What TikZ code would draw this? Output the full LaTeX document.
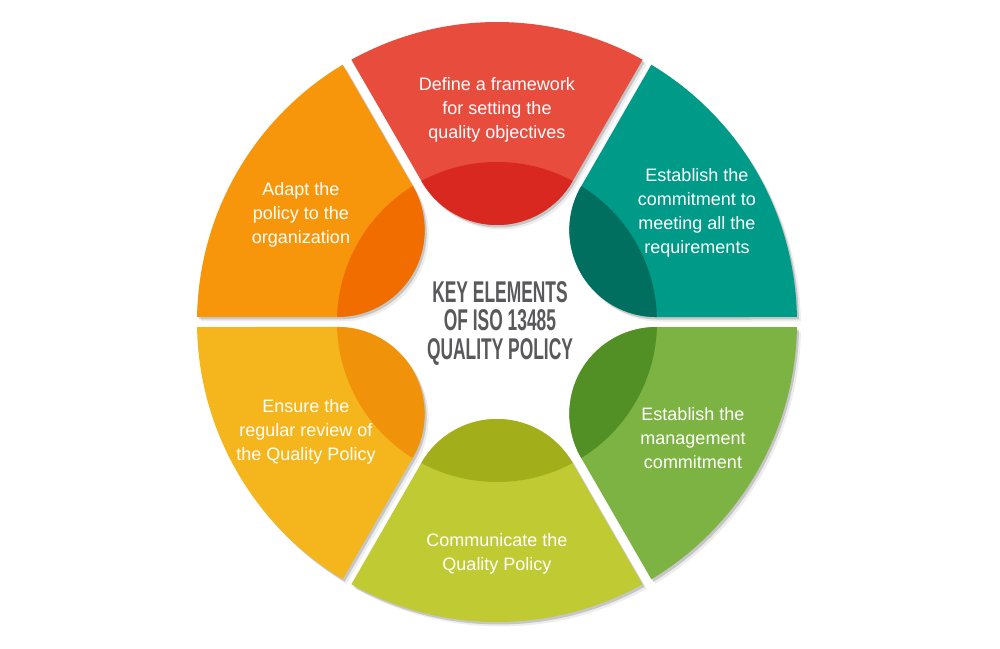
\documentclass[tikz,border=0pt]{standalone}
\usepackage{fontspec}
\setmainfont{Liberation Sans}
\definecolor{redL}{HTML}{E84C3D}
\definecolor{redD}{HTML}{D8281F}
\definecolor{tealL}{HTML}{009A88}
\definecolor{tealD}{HTML}{006F5F}
\definecolor{grnL}{HTML}{7CB342}
\definecolor{grnD}{HTML}{528F24}
\definecolor{ygL}{HTML}{C0CA33}
\definecolor{ygD}{HTML}{A3AF1A}
\definecolor{yelL}{HTML}{F5B51C}
\definecolor{yelD}{HTML}{F0930B}
\definecolor{orL}{HTML}{F7960B}
\definecolor{orD}{HTML}{F26D00}
\definecolor{titlegray}{HTML}{59595B}
\newcommand\segfill[1]{\fill[#1] (-29.04:300) arc[start angle=-29.04, end angle=29.04, radius=300] -- (140.5,75.3) arc[start angle=120, end angle=240, radius=87] -- cycle;}
\newcommand\segclip{\clip (-29.04:300) arc[start angle=-29.04, end angle=29.04, radius=300] -- (140.5,75.3) arc[start angle=120, end angle=240, radius=87] -- cycle;}
\tikzset{
  seglabel/.style={text=white, align=center, font=\fontsize{18}{24}\selectfont, inner sep=0pt},
  titlelabel/.style={text=titlegray, align=center, font=\fontsize{30}{28.5}\selectfont\bfseries, xscale=0.58, transform shape, inner sep=0pt}
}
\begin{document}
\begin{tikzpicture}[x=1pt,y=1pt]
\useasboundingbox[fill=white] (-497,-326) rectangle (503,322);
% shadows
\foreach \a in {90,30,-30,-90,-150,150} {
  \begin{scope}[shift={(2,-2.5)}, rotate=\a]\segfill{black, opacity=0.16}\end{scope}
  \begin{scope}[shift={(4,-4.5)}, rotate=\a]\segfill{black, opacity=0.07}\end{scope}
}
% segments
\foreach \a/\cl/\cd in {90/redL/redD, 30/tealL/tealD, -30/grnL/grnD, -90/ygL/ygD, -150/yelL/yelD, 150/orL/orD} {
  \begin{scope}[rotate=\a]
    \segfill{\cl}
    \begin{scope}
      \segclip
      \fill[\cd] (0,0) circle[radius=160];
    \end{scope}
  \end{scope}
}
% labels
\node[seglabel] (t1) at (0,212.5) {Define a framework\\for setting the\\quality objectives};
\node[seglabel] (t2) at (200,109.5) {Establish the\\commitment to\\meeting all the\\requirements};
\node[seglabel] (t3) at (196,-116) {Establish the\\management\\commitment};
\node[seglabel] (t4) at (0,-232) {Communicate the\\Quality Policy};
\node[seglabel] (t5) at (-191,-110) {Ensure the\\regular review of\\the Quality Policy};
\node[seglabel] (t6) at (-196,107) {Adapt the\\policy to the\\organization};
\node[titlelabel] (title) at (3,-1) {KEY ELEMENTS\\OF ISO 13485\\QUALITY POLICY};
\end{tikzpicture}
\end{document}
